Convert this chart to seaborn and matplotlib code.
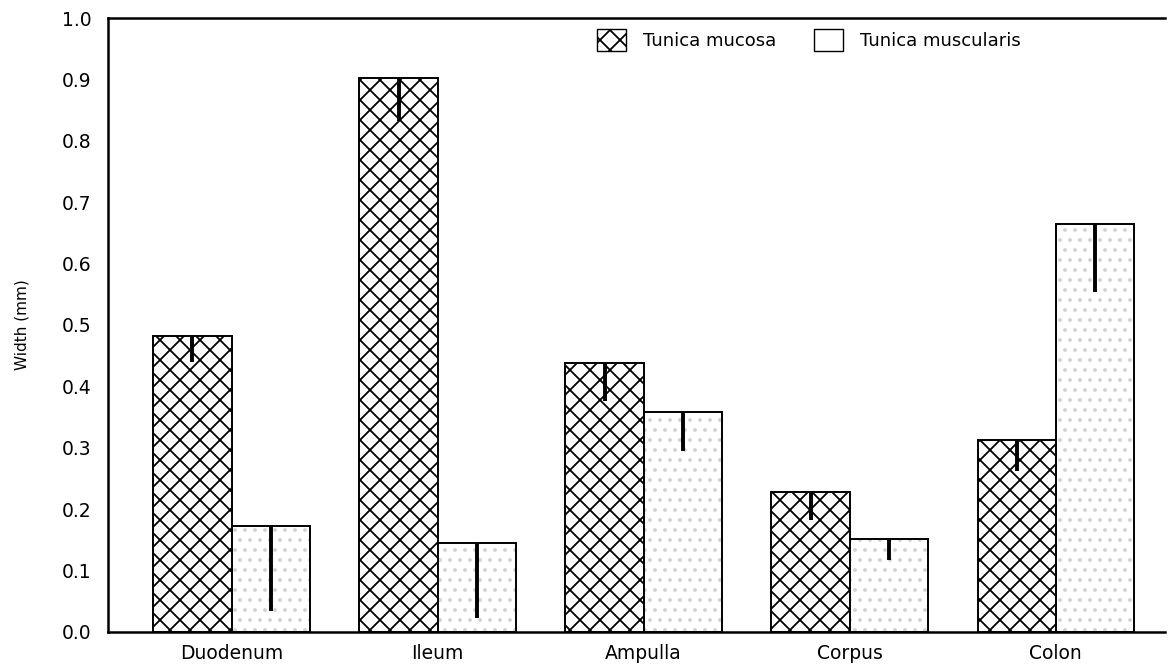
import matplotlib
matplotlib.use("Agg")
import matplotlib.pyplot as plt
from matplotlib.patches import Patch, Rectangle
import seaborn as sns
import pandas as pd

# Layer widths (mm) by intestinal segment, with the lower error extent
organs = ["Duodenum", "Ileum", "Ampulla", "Corpus", "Colon"]
layers = ["Tunica mucosa", "Tunica muscularis"]
mucosa = [0.482, 0.903, 0.438, 0.228, 0.313]
mucosa_err = [0.042, 0.070, 0.062, 0.046, 0.050]
muscularis = [0.172, 0.145, 0.358, 0.151, 0.664]
muscularis_err = [0.138, 0.122, 0.063, 0.034, 0.110]

DPI = 120
S = 100 / DPI  # keeps point sizes equivalent to a 100 dpi layout

sns.set_style("white")
plt.rcParams["font.family"] = ["DejaVu Sans"]
plt.rcParams["hatch.linewidth"] = 1.3 * S
plt.rcParams["text.color"] = "black"
plt.rcParams["axes.labelcolor"] = "black"
plt.rcParams["xtick.color"] = "black"
plt.rcParams["ytick.color"] = "black"

df = pd.DataFrame({
    "organ": organs * 2,
    "layer": [layers[0]] * len(organs) + [layers[1]] * len(organs),
    "width": mucosa + muscularis,
})

fig = plt.figure(figsize=(1169 / DPI, 667 / DPI), dpi=DPI)
ax = fig.add_axes([0.0924, 0.0525, 0.9042, 0.9205])

sns.barplot(data=df, x="organ", y="width", hue="layer", order=organs,
            hue_order=layers, palette=["white", "white"], width=0.76,
            errorbar=None, edgecolor="black", linewidth=1.4 * S, legend=False,
            ax=ax)

# Crosshatch for mucosa
for bar in ax.containers[0]:
    bar.set_hatch("xx")

# Faint stipple for muscularis, with a black outline laid over it
for bar in ax.containers[1]:
    bar.set_hatch("..")
    bar.set_edgecolor("#d2d2d2")
    bar.set_linewidth(0)
    ax.add_patch(Rectangle((bar.get_x(), bar.get_y()), bar.get_width(),
                           bar.get_height(), fill=False, edgecolor="black",
                           linewidth=1.4 * S, zorder=bar.get_zorder() + 0.1))

# One-sided error lines drawn down from each bar top
for cont, vals, errs in ((ax.containers[0], mucosa, mucosa_err),
                         (ax.containers[1], muscularis, muscularis_err)):
    for bar, v, e in zip(cont, vals, errs):
        cx = bar.get_x() + bar.get_width() / 2
        ax.vlines(cx, v - e, v, color="black", linewidth=2.8 * S, zorder=5)

ax.set_ylim(0, 1.0)
ax.set_xlim(-0.60, 4.53)
ax.set_yticks([i / 10 for i in range(11)])
ax.set_yticklabels([f"{i / 10:.1f}" for i in range(11)], fontsize=13.5 * S)
ax.set_xticks(range(len(organs)))
ax.set_xticklabels(organs, fontsize=13.5 * S)
ax.tick_params(axis="both", length=0)
ax.tick_params(axis="y", pad=12 * S)
ax.tick_params(axis="x", pad=9 * S)
ax.set_xlabel("")
ax.set_ylabel("Width (mm)", fontsize=11 * S, labelpad=23 * S)

for side in ("left", "bottom", "top"):
    ax.spines[side].set_visible(True)
    ax.spines[side].set_linewidth(1.8 * S)
    ax.spines[side].set_color("black")
ax.spines["right"].set_visible(False)

handles = [Patch(facecolor="white", edgecolor="black", hatch="xx", linewidth=1.0 * S),
           Patch(facecolor="white", edgecolor="black", linewidth=1.0 * S)]
ax.legend(handles, layers, ncol=2, frameon=False, fontsize=13 * S,
          loc="upper left", bbox_to_anchor=(0.447, 1.008),
          handlelength=1.6, handleheight=1.5, columnspacing=2.1,
          handletextpad=0.95)

fig.savefig("out.png", dpi=DPI)
